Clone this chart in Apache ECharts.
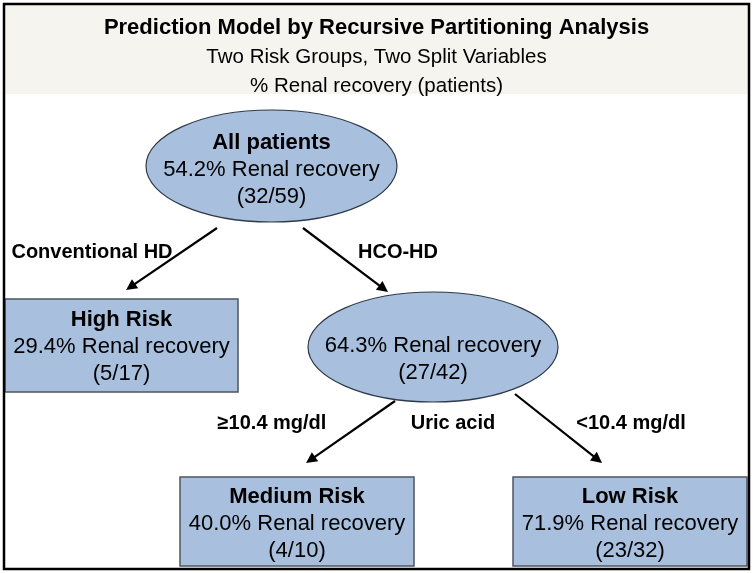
<!DOCTYPE html>
<html><head><meta charset="utf-8">
<script src="https://cdn.jsdelivr.net/npm/echarts@6/dist/echarts.min.js"></script>
<style>html,body{margin:0;padding:0;background:#fff}#c{width:753px;height:573px}</style>
</head><body><div id="c"></div>
<script>
// ---- data ----
const titleLines = ['Prediction Model by Recursive Partitioning Analysis', 'Two Risk Groups, Two Split Variables', '% Renal recovery (patients)'];
const nodeTitles = ['All patients', '', 'High Risk', 'Medium Risk', 'Low Risk'];
const recoveryPct = [54.2, 64.3, 29.4, 40.0, 71.9];
const recovered = [32, 27, 5, 4, 23];
const totals = [59, 42, 17, 10, 32];
const edgeFrom = [0, 0, 1, 1];
const edgeTo = [2, 1, 3, 4];
const edgeLabels = ['Conventional HD', 'HCO-HD', '≥10.4 mg/dl', '<10.4 mg/dl'];
const splitLabel = 'Uric acid';

// ---- layout (diagram units) ----
const nodeShape = ['ellipse', 'ellipse', 'rect', 'rect', 'rect'];
const nodeX = [271.5, 433, 121.5, 297, 630];
const nodeY = [166, 347, 345.5, 521.5, 521.5];
const nodeW = [251, 250, 233, 234, 234];
const nodeH = [112, 110, 93, 89, 89];
const textTop = [143, 346, 320, 497, 497];
const lineGap = 27;
const arrowStart = [[217, 228], [303, 228], [395, 401], [515, 394]];
const arrowEnd = [[126, 290], [388, 292], [306, 463], [602, 463]];
const edgeLabelPos = [[92, 252], [398, 252], [272, 423], [631, 423]];
const splitLabelPos = [[453, 423]];

const FONT = '"Liberation Sans", Arial, Helvetica, sans-serif';
const FILL = '#a8c0de';

function nodeLines(i) {
  const out = [];
  if (nodeTitles[i]) out.push({ t: nodeTitles[i], bold: true });
  out.push({ t: recoveryPct[i].toFixed(1) + '% Renal recovery' });
  out.push({ t: '(' + recovered[i] + '/' + totals[i] + ')' });
  return out;
}

function renderNode(params, api) {
  const i = api.value(2);
  const c = api.coord([api.value(0), api.value(1)]);
  const s = api.size([nodeW[i], nodeH[i]]);
  const w = Math.abs(s[0]), h = Math.abs(s[1]);
  const children = [];
  if (nodeShape[i] === 'ellipse') {
    children.push({ type: 'ellipse', shape: { cx: c[0], cy: c[1], rx: w / 2, ry: h / 2 },
      style: { fill: FILL, stroke: '#2f3a48', lineWidth: 1.2 } });
  } else {
    children.push({ type: 'rect', shape: { x: c[0] - w / 2, y: c[1] - h / 2, width: w, height: h },
      style: { fill: FILL, stroke: '#4d5662', lineWidth: 1.5 } });
  }
  nodeLines(i).forEach(function (ln, k) {
    const p = api.coord([api.value(0), textTop[i] + k * lineGap]);
    children.push({ type: 'text', style: { text: ln.t, x: p[0], y: p[1], align: 'center', verticalAlign: 'middle',
      fontFamily: FONT, fontSize: 22, fontWeight: ln.bold ? 'bold' : 'normal', fill: '#000' } });
  });
  return { type: 'group', children: children };
}

function renderArrow(params, api) {
  const p1 = api.coord([api.value(0), api.value(1)]);
  const p2 = api.coord([api.value(2), api.value(3)]);
  const dx = p2[0] - p1[0], dy = p2[1] - p1[1];
  const L = Math.sqrt(dx * dx + dy * dy);
  const ux = dx / L, uy = dy / L;
  const hl = 11, hw = 5.5;
  const bx = p2[0] - ux * hl, by = p2[1] - uy * hl;
  return { type: 'group', children: [
    { type: 'line', shape: { x1: p1[0], y1: p1[1], x2: bx + ux * 2, y2: by + uy * 2 }, style: { stroke: '#000', lineWidth: 2.2 } },
    { type: 'polygon', shape: { points: [[p2[0], p2[1]], [bx - uy * hw, by + ux * hw], [bx + uy * hw, by - ux * hw]] }, style: { fill: '#000' } }
  ] };
}

function renderLabel(texts) {
  return function (params, api) {
    const p = api.coord([api.value(0), api.value(1)]);
    return { type: 'text', style: { text: texts[api.value(2)], x: p[0], y: p[1], align: 'center', verticalAlign: 'middle',
      fontFamily: FONT, fontSize: 20, fontWeight: 'bold', fill: '#000' } };
  };
}

const nodeData = nodeX.map(function (x, i) { return [x, nodeY[i], i]; });
const arrowData = edgeFrom.map(function (f, k) { return [arrowStart[k][0], arrowStart[k][1], arrowEnd[k][0], arrowEnd[k][1], k]; });
const labelData = edgeLabelPos.map(function (p, k) { return [p[0], p[1], k]; });
const splitData = splitLabelPos.map(function (p, k) { return [p[0], p[1], k]; });

const chart = echarts.init(document.getElementById('c'));
chart.setOption({
  animation: false,
  backgroundColor: '#fff',
  title: {
    text: titleLines[0],
    subtext: titleLines[1] + '\n' + titleLines[2],
    left: 'center', top: 16, padding: 0, itemGap: 3,
    textStyle: { fontFamily: FONT, fontSize: 22, fontWeight: 'bold', color: '#000', lineHeight: 24 },
    subtextStyle: { fontFamily: FONT, fontSize: 20.5, color: '#000', lineHeight: 29 }
  },
  graphic: [
    { type: 'rect', z: -10, shape: { x: 4, y: 4, width: 745, height: 90 }, style: { fill: '#f5f4ef' } },
    { type: 'rect', z: 100, shape: { x: 4, y: 4, width: 745, height: 565 }, style: { fill: 'none', stroke: '#000', lineWidth: 2.5 } }
  ],
  grid: { left: 0, right: 0, top: 0, bottom: 0 },
  xAxis: { type: 'value', min: 0, max: 753, show: false },
  yAxis: { type: 'value', min: 0, max: 573, inverse: true, show: false },
  series: [
    { type: 'custom', renderItem: renderNode, data: nodeData, clip: false },
    { type: 'custom', renderItem: renderArrow, data: arrowData, clip: false },
    { type: 'custom', renderItem: renderLabel(edgeLabels), data: labelData, clip: false },
    { type: 'custom', renderItem: renderLabel([splitLabel]), data: splitData, clip: false }
  ]
});
</script>
</body></html>
